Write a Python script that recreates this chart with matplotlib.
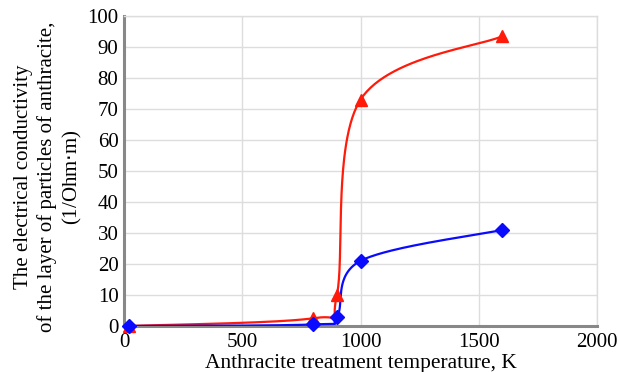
import numpy as np
import matplotlib.pyplot as plt

plt.rcParams['font.family'] = ['Liberation Serif', 'DejaVu Serif']

# --- data ---
temp = [20, 800, 900, 1000, 1600]
cond_red = [0.0, 2.5, 10.0, 73.0, 93.5]
cond_blue = [0.0, 0.5, 3.0, 21.0, 31.0]

x_ticks = [0, 500, 1000, 1500, 2000]
y_ticks = list(range(0, 101, 10))


def smooth_curve(xs, ys, n=60):
    # excel-style smoothed line: cubic bezier, control points from neighbours
    p = np.column_stack([xs, ys]).astype(float)
    out = []
    for i in range(len(p) - 1):
        p0 = p[i - 1] if i > 0 else p[i]
        p1 = p[i]
        p2 = p[i + 1]
        p3 = p[i + 2] if i + 2 < len(p) else p[i + 1]
        c1 = p1 + (p2 - p0) / 6.0
        c2 = p2 - (p3 - p1) / 6.0
        t = np.linspace(0, 1, n)[:, None]
        seg = ((1 - t) ** 3) * p1 + 3 * ((1 - t) ** 2) * t * c1 \
            + 3 * (1 - t) * t ** 2 * c2 + t ** 3 * p2
        out.append(seg if i == 0 else seg[1:])
    out = np.vstack(out)
    return out[:, 0], out[:, 1]


fig, ax = plt.subplots(figsize=(6.19, 3.72), dpi=100)
fig.subplots_adjust(left=0.2003, right=0.9645, top=0.957, bottom=0.1237)

sx, sy = smooth_curve(temp, cond_red)
ax.plot(sx, sy, color='#FF1A0A', linewidth=1.6, zorder=3)
ax.plot(temp, cond_red, linestyle='none', marker='^', markersize=9,
        color='#FF1A0A', zorder=4, clip_on=False)

sx, sy = smooth_curve(temp, cond_blue)
ax.plot(sx, sy, color='#0A0AFF', linewidth=1.6, zorder=3)
ax.plot(temp, cond_blue, linestyle='none', marker='D', markersize=7,
        color='#0A0AFF', zorder=5, clip_on=False)

ax.set_xlim(0, 2000)
ax.set_ylim(0, 100)
ax.set_xticks(x_ticks)
ax.set_yticks(y_ticks)
ax.tick_params(axis='both', length=0, labelsize=15, colors='black')
ax.tick_params(axis='x', pad=5)
ax.tick_params(axis='y', pad=4)
ax.grid(True, color='#DDDDDD', linewidth=1.0)
ax.set_axisbelow(True)

for side in ['top', 'right']:
    ax.spines[side].set_color('#DDDDDD')
    ax.spines[side].set_linewidth(1.0)
for side in ['left', 'bottom']:
    ax.spines[side].set_color('#888888')
    ax.spines[side].set_linewidth(2.2)

ax.set_xlabel('Anthracite treatment temperature, K', fontsize=15.5, labelpad=1.5)
ax.set_ylabel('The electrical conductivity\nof the layer of particles of anthracite,\n(1/Ohm$\\cdot$m)',
              fontsize=15, linespacing=1.25)
ax.yaxis.set_label_coords(-0.085, 0.48)

fig.savefig('out.png', dpi=100)
